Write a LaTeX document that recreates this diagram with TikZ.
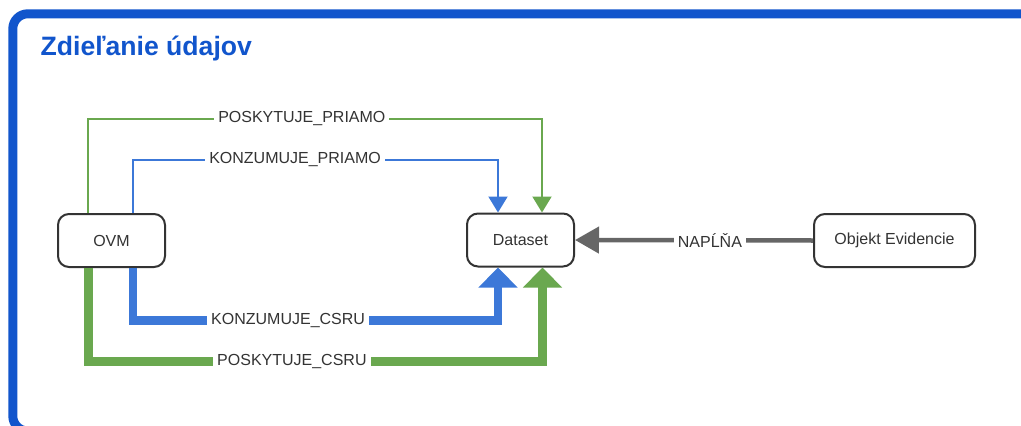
\documentclass[tikz,border=0pt]{standalone}
\usepackage{fontspec}
\setmainfont{Liberation Sans}
\usetikzlibrary{arrows.meta}
\definecolor{frameblue}{HTML}{1155CC}
\definecolor{linkblue}{HTML}{3C78D8}
\definecolor{linkgreen}{HTML}{6AA84F}
\definecolor{linkgray}{HTML}{666666}
\definecolor{inkgray}{HTML}{333333}

\begin{document}
\begin{tikzpicture}[x=1pt,y=-1pt,
  entity/.style={draw=inkgray, line width=2pt, rounded corners=11pt, fill=white,
    minimum height=53pt, inner sep=0pt, font=\fontsize{16}{19}\selectfont, text=inkgray},
  lbl/.style={fill=white, inner xsep=4pt, inner ysep=2pt,
    font=\fontsize{16}{19}\selectfont, text=inkgray},
  thinlink/.style={line width=2pt, -{Triangle[length=16pt,width=19pt]}},
  thicklink/.style={line width=8.5pt, -{Triangle[length=20pt,width=38pt]}},
  graylink/.style={draw=linkgray, line width=4.5pt, -{Triangle[length=24pt,width=26pt]}},
]
\useasboundingbox (0,0) rectangle (1021,426);

% outer panel frame
\begin{scope}
  \clip (0,0) rectangle (1021,426);
  \draw[frameblue, line width=9pt, rounded corners=15pt] (12.8,13.8) rectangle (1045,431);
\end{scope}

% title
\node[anchor=base west, inner sep=0pt, text=frameblue,
      font=\fontsize{26.6}{30}\selectfont\bfseries] (title) at (40.5,55) {Zdieľanie údajov};

% entities
\node[entity, minimum width=107pt] (ovm) at (111.5,240.5) {OVM};
\node[entity, minimum width=107pt] (ds)  at (520.5,240) {Dataset};
\node[entity, minimum width=161pt] (obj) at (894.5,240.5) {Objekt Evidencie};

% attachment points on the boxes
\coordinate (ovmG) at ([xshift=-23.5pt]ovm.north);
\coordinate (ovmB) at ([xshift=21.5pt]ovm.north);
\coordinate (dsB)  at ([xshift=-22.5pt]ds.north);
\coordinate (dsG)  at ([xshift=21.5pt]ds.north);
\coordinate (ovmGs) at ([xshift=-23pt]ovm.south);
\coordinate (ovmBs) at ([xshift=21.5pt]ovm.south);
\coordinate (dsBs)  at ([xshift=-22.5pt]ds.south);
\coordinate (dsGs)  at ([xshift=22pt]ds.south);

% direct links (thin)
\draw[linkgreen, thinlink] (ovmG) -- (ovmG |- 0,119)
  -- node[lbl, pos=0.471] {POSKYTUJE\_PRIAMO} (dsG |- 0,119) -- (dsG);
\draw[linkblue, thinlink] (ovmB) -- (ovmB |- 0,159.5)
  -- node[lbl, pos=0.444] {KONZUMUJE\_PRIAMO} (dsB |- 0,159.5) -- (dsB);

% CSRU links (thick)
\draw[linkblue, thicklink] (ovmBs) -- (ovmBs |- 0,320.5)
  -- node[lbl, pos=0.425] {KONZUMUJE\_CSRU} (dsBs |- 0,320.5) -- (dsBs);
\draw[linkgreen, thicklink] (ovmGs) -- (ovmGs |- 0,361.5)
  -- node[lbl, pos=0.448] {POSKYTUJE\_CSRU} (dsGs |- 0,361.5) -- (dsGs);

% population link
\draw[graylink] (obj.west) -- node[lbl, pos=0.433] {NAPĹŇA} (ds.east);
\end{tikzpicture}
\end{document}
